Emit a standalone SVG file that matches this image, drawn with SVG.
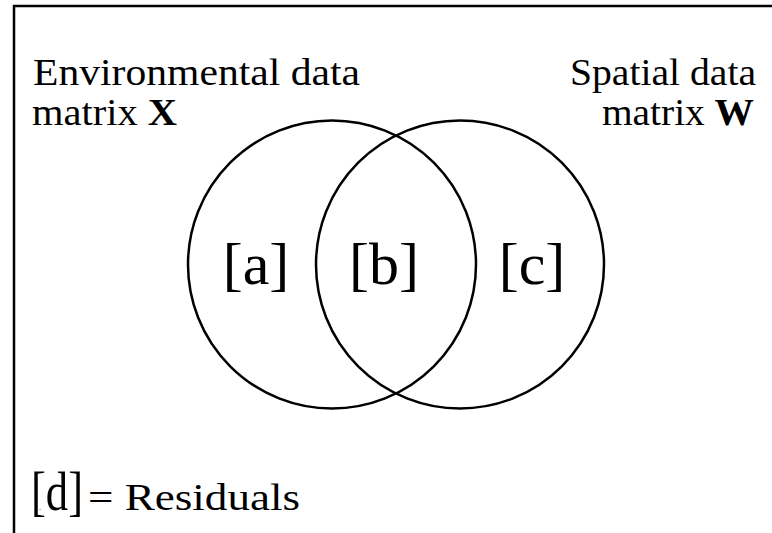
<svg xmlns="http://www.w3.org/2000/svg" width="772" height="533" viewBox="0 0 772 533">
<style>
.t{font-family:"Liberation Serif","Times New Roman",serif;fill:#000}
.lab{font-size:38px}
.big{font-size:60px}
.ring{fill:none;stroke:#000;stroke-width:2.5}
</style>
<rect x="0" y="0" width="772" height="533" fill="#fff"/>
<rect x="14" y="6" width="820" height="600" fill="none" stroke="#000" stroke-width="2.5"/>
<g id="setX">
<circle class="ring" cx="332" cy="264.5" r="144"/>
<text class="t lab" x="33" y="85" textLength="327" lengthAdjust="spacingAndGlyphs">Environmental data</text>
<text class="t lab" x="32" y="125" textLength="145" lengthAdjust="spacingAndGlyphs">matrix <tspan font-weight="bold">X</tspan></text>
</g>
<g id="setW">
<circle class="ring" cx="460" cy="264.5" r="144"/>
<text class="t lab" x="570" y="85" textLength="186" lengthAdjust="spacingAndGlyphs">Spatial data</text>
<text class="t lab" x="602" y="125" textLength="152" lengthAdjust="spacingAndGlyphs">matrix <tspan font-weight="bold">W</tspan></text>
</g>
<g id="a"><text class="t big" x="256" y="284" text-anchor="middle">[a]</text></g>
<g id="b"><text class="t big" x="384" y="284" text-anchor="middle">[b]</text></g>
<g id="c"><text class="t big" x="532" y="284" text-anchor="middle">[c]</text></g>
<g id="d">
<text class="t" x="31" y="510" font-size="54" textLength="52" lengthAdjust="spacingAndGlyphs">[d]</text>
<text class="t" x="40" y="510" font-size="8" text-anchor="middle">.</text>
<text class="t" x="88" y="510" font-size="38" textLength="212" lengthAdjust="spacingAndGlyphs">= Residuals</text>
</g>
<g id="connectors"/>
</svg>
